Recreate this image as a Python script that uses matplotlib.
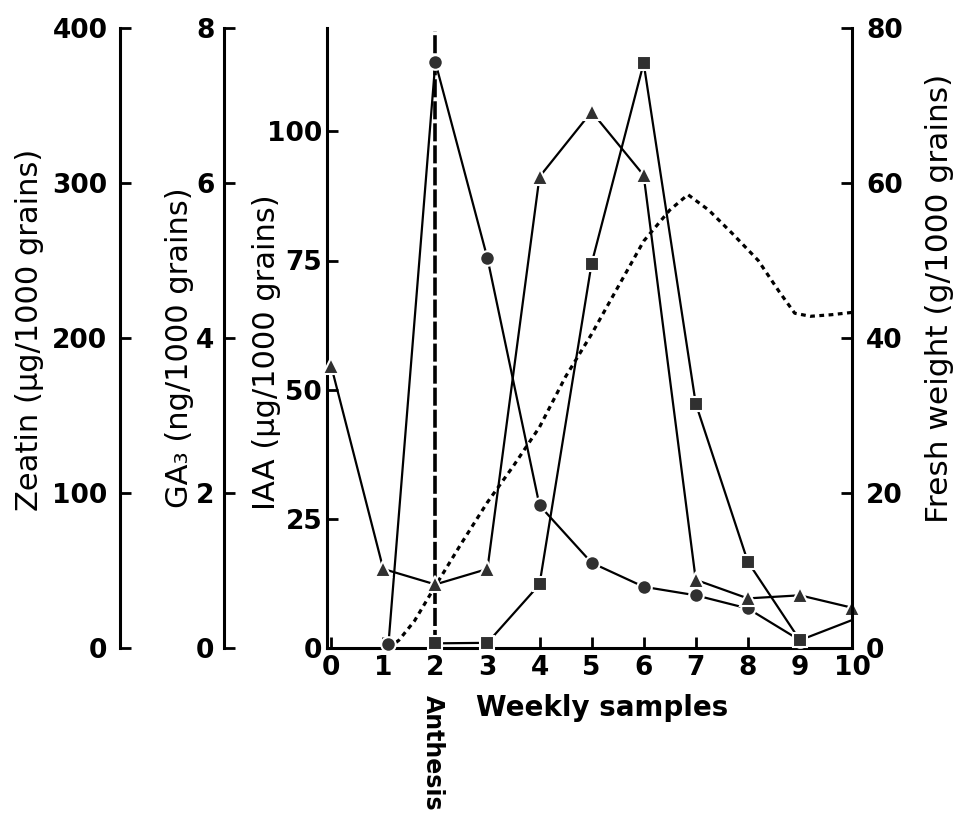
import matplotlib
matplotlib.use('Agg')
import matplotlib.pyplot as plt
from matplotlib.transforms import blended_transform_factory

plt.rcParams['font.family'] = ['DejaVu Sans']

# ---------------- data ----------------
# GA3 (circles), ng/1000 grains
ga3_weeks = [1.1, 2, 3, 4, 5, 6, 7, 8, 9]
ga3_vals = [0.05, 7.56, 5.03, 1.84, 1.10, 0.79, 0.68, 0.51, 0.10]
# Zeatin (triangles), ug/1000 grains
zeatin_weeks = [0, 1, 2, 3, 4, 5, 6, 7, 8, 9, 10]
zeatin_vals = [182, 51, 41, 51, 304, 346, 305, 44, 32, 34, 26]
# IAA (squares), ug/1000 grains
iaa_weeks = [2, 3, 4, 5, 6, 7, 8, 9, 10]
iaa_vals = [0.9, 1.0, 12.3, 74.4, 113.2, 47.3, 16.7, 1.5, 5.4]
# Fresh weight (dotted), g/1000 grains
fw_weeks = [1.1, 1.3, 1.6, 2.0, 2.5, 3.0, 3.5, 4.0, 4.5, 5.0, 5.5, 6.0, 6.5,
            6.85, 7.25, 7.7, 8.2, 8.6, 8.9, 9.2, 9.6, 10.0]
fw_vals = [0, 1.0, 3.5, 8.0, 13.5, 18.8, 23.5, 28.5, 35, 40.5, 46.5, 52.5, 56.5,
           58.5, 56.5, 53.5, 50, 46, 43.2, 42.8, 43, 43.3]

x_ticks = list(range(11))
iaa_ticks = [0, 25, 50, 75, 100]
ga3_ticks = [0, 2, 4, 6, 8]
zeatin_ticks = [0, 100, 200, 300, 400]
fw_ticks = [0, 20, 40, 60, 80]
anthesis_week = 2

# ---------------- layout ----------------
W, H = 954, 816
fig = plt.figure(figsize=(W / 100, H / 100), dpi=100)
L, R = 327 / W, 852 / W
B, T = (H - 648) / H, (H - 28) / H

FS = 19
LFS = 22
SPW = 2.2
tick_kw = dict(direction='in', length=8, width=2, labelsize=FS)

ax = fig.add_axes([L, B, R - L, T - B])
ax.set_xlim(-0.08, 10)
ax.set_ylim(0, 120)
for s in ['top', 'right']:
    ax.spines[s].set_visible(False)
for s in ['left', 'bottom']:
    ax.spines[s].set_linewidth(SPW)
ax.set_xticks(x_ticks)
ax.set_yticks(iaa_ticks)
ax.tick_params(axis='x', pad=5, **tick_kw)
ax.tick_params(axis='y', pad=3.5, **tick_kw)

ax_fw = ax.twinx()
ax_fw.set_ylim(0, 80)
ax_fw.set_yticks(fw_ticks)
for s in ['top', 'left', 'bottom']:
    ax_fw.spines[s].set_visible(False)
ax_fw.spines['right'].set_linewidth(SPW)
ax_fw.tick_params(axis='y', pad=10, **tick_kw)


def side_axis(xpix, ylim, ticks, pad):
    a = fig.add_axes([xpix / W, B, 0.0005, T - B])
    a.set_ylim(*ylim)
    a.set_yticks(ticks)
    a.set_xticks([])
    a.patch.set_visible(False)
    for s in ['top', 'right', 'bottom']:
        a.spines[s].set_visible(False)
    a.spines['left'].set_linewidth(SPW)
    a.tick_params(axis='y', pad=pad, **tick_kw)
    return a


ax_z = side_axis(120, (0, 400), zeatin_ticks, 9)
ax_g = side_axis(224, (0, 8), ga3_ticks, 7)

for a in (ax, ax_fw, ax_z, ax_g):
    for lab in a.get_xticklabels() + a.get_yticklabels():
        lab.set_fontweight('bold')

# ---------------- series ----------------
mk = dict(color='black', lw=1.6, mfc='#303030', mec='white', mew=1.5, clip_on=False)
ax.plot(ga3_weeks, ga3_vals, marker='o', ms=10.5,
        transform=blended_transform_factory(ax.transData, ax_g.transData), zorder=4, **mk)
ax.plot(zeatin_weeks, zeatin_vals, marker='^', ms=12,
        transform=blended_transform_factory(ax.transData, ax_z.transData), zorder=4, **mk)
ax.plot(iaa_weeks, iaa_vals, marker='s', ms=10, markevery=list(range(len(iaa_weeks) - 1)),
        zorder=4, **mk)
ax.plot(fw_weeks, fw_vals, color='black', lw=2.3, ls=(0, (1.5, 1.4)),
        transform=blended_transform_factory(ax.transData, ax_fw.transData), zorder=3)

ax.axvline(anthesis_week, ymin=0, ymax=0.995, color='black', lw=2.6,
           ls=(0, (5, 1.1)), zorder=2)

# ---------------- text ----------------
fig.text(30 / W, 1 - 330 / H, 'Zeatin (μg/1000 grains)', rotation=90,
         ha='center', va='center', fontsize=LFS)
fig.text(180 / W, 1 - 348 / H, 'GA₃ (ng/1000 grains)', rotation=90,
         ha='center', va='center', fontsize=LFS)
fig.text(267 / W, 1 - 352 / H, 'IAA (μg/1000 grains)', rotation=90,
         ha='center', va='center', fontsize=LFS)
fig.text(940 / W, 1 - 298 / H, 'Fresh weight (g/1000 grains)', rotation=90,
         ha='center', va='center', fontsize=LFS + 0.5)
fig.text(602 / W, 1 - 708 / H, 'Weekly samples', ha='center', va='center',
         fontsize=20, fontweight='bold')
fig.text(433 / W, 1 - 695 / H, 'Anthesis', rotation=270, ha='center', va='top',
         fontsize=17, fontweight='bold')

fig.savefig('out.png', dpi=100)
